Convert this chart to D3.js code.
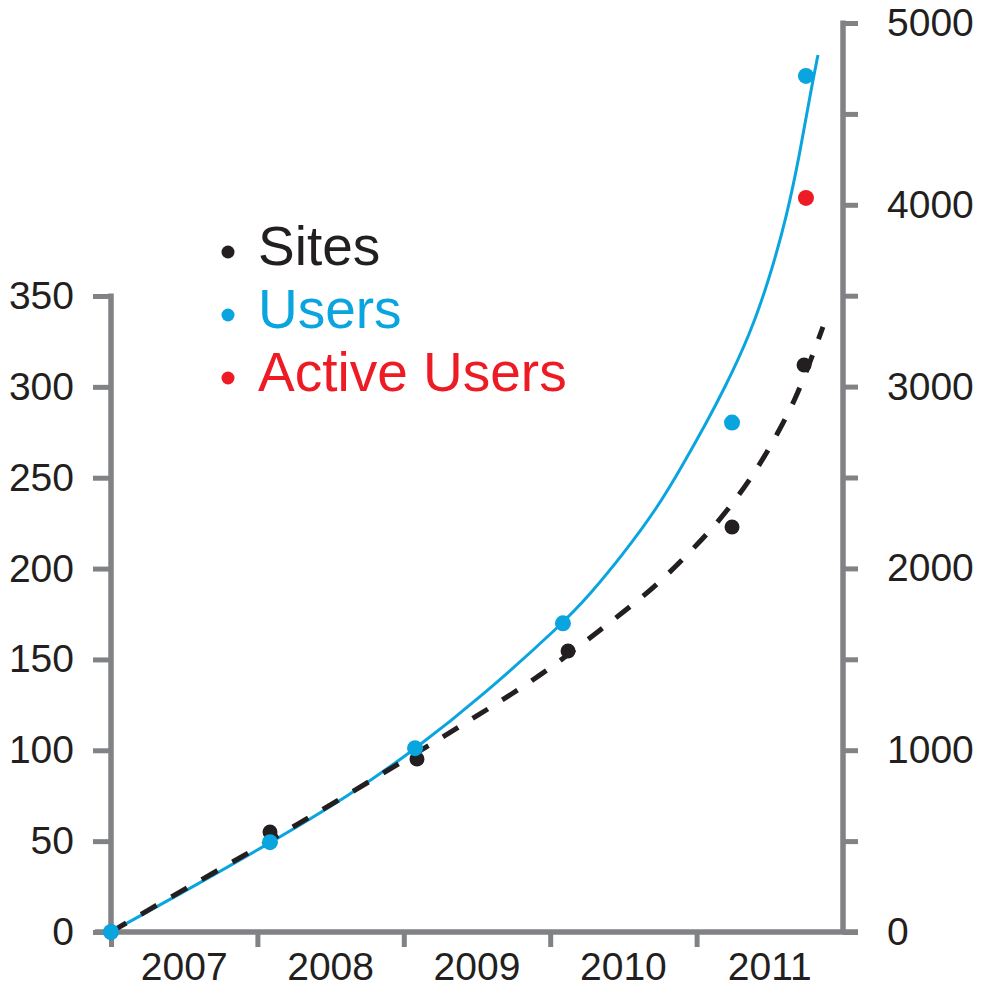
<!DOCTYPE html>
<html>
<head>
<meta charset="utf-8">
<script src="https://cdn.jsdelivr.net/npm/d3@7"></script>
<style>
  body { margin: 0; background: #fff; }
  text { font-family: "Liberation Sans", Arial, sans-serif; fill: #231f20; }
</style>
</head>
<body>
<div id="chart"></div>
<script>
// years as decimal numbers (2007.0 = 1 Jan 2007)
var yearLabels = ["2007", "2008", "2009", "2010", "2011"];
var yearTicks = [2007, 2008, 2009, 2010, 2011];

var siteYears = [2007, 2008.086, 2009.09, 2010.122, 2011.242, 2011.734];
var siteValues = [0, 55, 95.2, 154.6, 222.9, 312];

var userYears = [2007, 2008.086, 2009.077, 2010.087, 2011.242, 2011.747];
var userValues = [0, 494, 1011, 1698, 2802, 4709];

var activeYears = [2011.747];
var activeValues = [4038];

// trend lines
var siteTrendYears = [2007, 2007.266, 2007.724, 2008.175, 2008.612, 2009.077, 2009.5, 2009.944, 2010.34, 2010.546,
  2010.75, 2010.935, 2011.112, 2011.276, 2011.419, 2011.556, 2011.672, 2011.754, 2011.836, 2011.863];
var siteTrendValues = [0, 12.7, 33.6, 54.5, 75.4, 98, 118.9, 141.4, 166.2, 178.9,
  192.6, 207.5, 222.3, 238.9, 255.4, 274.6, 292.8, 309.3, 326.9, 333];

var userTrendYears = [2007, 2007.471, 2008.086, 2008.633, 2009.077, 2009.541, 2010.087, 2010.272, 2010.497, 2010.73,
  2010.907, 2011.071, 2011.18, 2011.365, 2011.501, 2011.617, 2011.706, 2011.775, 2011.829];
var userTrendValues = [0, 209, 489, 753, 1005, 1302, 1698, 1857, 2077, 2330,
  2571, 2808, 2973, 3286, 3604, 3940, 4286, 4604, 4824];

var leftTicks = [0, 50, 100, 150, 200, 250, 300, 350];
var rightTicks = [0, 500, 1000, 1500, 2000, 2500, 3000, 3500, 4000, 4500, 5000];

var legendLabels = ["Sites", "Users", "Active Users"];
var legendColors = ["#231f20", "#0aa5df", "#ed1c24"];

var gray = "#808285";

var svg = d3.select("#chart").append("svg")
  .attr("width", 986)
  .attr("height", 988);

var x = d3.scaleLinear().domain([2007, 2012]).range([111, 843]);
var yL = d3.scaleLinear().domain([0, 350]).range([932, 296]);
var yR = d3.scaleLinear().domain([0, 5000]).range([932, 23]);

// axes
var leftAxis = svg.append("g")
  .attr("transform", "translate(111,0)")
  .call(d3.axisLeft(yL).tickValues(leftTicks).tickSize(18).tickSizeOuter(0).tickPadding(19));

var rightAxis = svg.append("g")
  .attr("transform", "translate(843,0)")
  .call(d3.axisRight(yR).tickValues(rightTicks).tickSize(15).tickSizeOuter(0).tickPadding(29)
    .tickFormat(function(d) { return d % 1000 === 0 ? d : ""; }));

var bottomAxis = svg.append("g")
  .attr("transform", "translate(0,932)")
  .call(d3.axisBottom(x).tickValues(yearTicks).tickSize(15).tickSizeOuter(0).tickFormat(""));

[leftAxis, rightAxis, bottomAxis].forEach(function(g) {
  g.select(".domain").remove();
  g.selectAll(".tick line").attr("stroke", gray).attr("stroke-width", 5);
  g.selectAll(".tick text").style("font-size", "39px").attr("fill", "#231f20");
});

svg.append("line")
  .attr("x1", 111).attr("x2", 111).attr("y1", yL(350) - 2.5).attr("y2", 932)
  .attr("stroke", gray).attr("stroke-width", 5.5);
svg.append("line")
  .attr("x1", 843).attr("x2", 843).attr("y1", yR(5000) - 2.5).attr("y2", 932)
  .attr("stroke", gray).attr("stroke-width", 5.5);
svg.append("line")
  .attr("x1", 95).attr("x2", 858).attr("y1", 932).attr("y2", 932)
  .attr("stroke", gray).attr("stroke-width", 5.5);

// year labels centred between ticks
svg.append("g").selectAll("text")
  .data(yearLabels)
  .enter()
  .append("text")
  .attr("x", function(d, i) { return x(yearTicks[i] + 0.5); })
  .attr("y", 980)
  .attr("text-anchor", "middle")
  .style("font-size", "39px")
  .text(function(d) { return d; });

// trend lines
var userLine = d3.line()
  .x(function(d, i) { return x(userTrendYears[i]); })
  .y(function(d) { return yR(d); })
  .curve(d3.curveBasis);
svg.append("path")
  .attr("d", userLine(userTrendValues))
  .attr("fill", "none")
  .attr("stroke", legendColors[1])
  .attr("stroke-width", 3);

var siteLine = d3.line()
  .x(function(d, i) { return x(siteTrendYears[i]); })
  .y(function(d) { return yL(d); })
  .curve(d3.curveBasis);
svg.append("path")
  .attr("d", siteLine(siteTrendValues))
  .attr("fill", "none")
  .attr("stroke", legendColors[0])
  .attr("stroke-width", 5)
  .attr("stroke-dasharray", "18,17");

// points
svg.append("g").selectAll("circle")
  .data(siteValues)
  .enter()
  .append("circle")
  .attr("cx", function(d, i) { return x(siteYears[i]); })
  .attr("cy", function(d) { return yL(d); })
  .attr("r", 7.5)
  .attr("fill", legendColors[0]);

svg.append("g").selectAll("circle")
  .data(userValues)
  .enter()
  .append("circle")
  .attr("cx", function(d, i) { return x(userYears[i]); })
  .attr("cy", function(d) { return yR(d); })
  .attr("r", 8)
  .attr("fill", legendColors[1]);

svg.append("g").selectAll("circle")
  .data(activeValues)
  .enter()
  .append("circle")
  .attr("cx", function(d, i) { return x(activeYears[i]); })
  .attr("cy", function(d) { return yR(d); })
  .attr("r", 8)
  .attr("fill", legendColors[2]);

// legend
var legend = svg.append("g").selectAll("g")
  .data(legendLabels)
  .enter()
  .append("g")
  .attr("transform", function(d, i) { return "translate(228," + (252 + i * 63) + ")"; });

legend.append("circle")
  .attr("r", 6.5)
  .attr("fill", function(d, i) { return legendColors[i]; });

legend.append("text")
  .attr("x", 30)
  .attr("y", 13)
  .style("font-size", "55px")
  .style("fill", function(d, i) { return legendColors[i]; })
  .text(function(d) { return d; });
</script>
</body>
</html>
